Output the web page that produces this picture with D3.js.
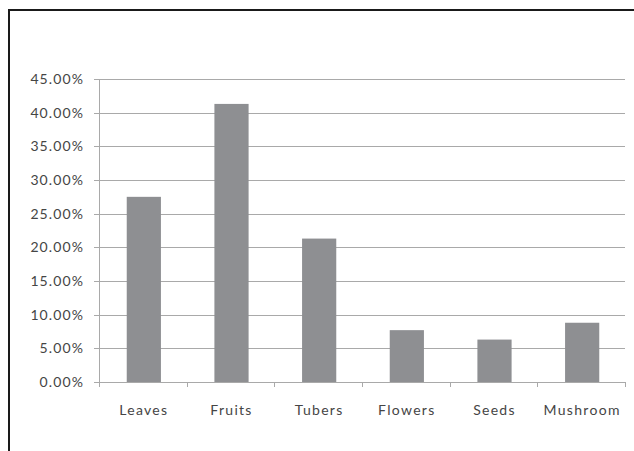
<!DOCTYPE html>
<html>
<head>
<meta charset="utf-8">
<script src="https://cdn.jsdelivr.net/npm/d3@7"></script>
<style>
  body { margin: 0; background: #fff; }
  svg { display: block; }
</style>
</head>
<body>
<div id="chart"></div>
<script>
// chart data
const categories = ["Leaves", "Fruits", "Tubers", "Flowers", "Seeds", "Mushroom"];
const shares = [0.275, 0.413, 0.213, 0.077, 0.063, 0.088];
const yTicks = [0, 0.05, 0.10, 0.15, 0.20, 0.25, 0.30, 0.35, 0.40, 0.45];

const width = 634;
const height = 451;
const margin = { top: 79, right: 9, bottom: 69, left: 99 };

const svg = d3.select("#chart")
    .append("svg")
    .attr("width", width)
    .attr("height", height);

// outer frame (only left and top edges are visible in the picture)
svg.append("path")
    .attr("d", `M9,${height} V10 H${width}`)
    .attr("fill", "none")
    .attr("stroke", "#1a1a1a")
    .attr("stroke-width", 2);

const x = d3.scaleBand()
    .domain(categories)
    .range([margin.left, width - margin.right])
    .paddingInner(0.61)
    .paddingOuter(0.305);

const xEdge = d3.scaleLinear()
    .domain([0, categories.length])
    .range([margin.left, width - margin.right]);

const y = d3.scaleLinear()
    .domain([0, 0.45])
    .range([height - margin.bottom, margin.top]);

const font = "Lato, 'Open Sans', sans-serif";

// gridlines
svg.append("g")
    .selectAll("line")
    .data(yTicks)
    .enter()
    .append("line")
    .attr("x1", margin.left - 5)
    .attr("x2", width - margin.right)
    .attr("y1", (d) => Math.round(y(d)) + 0.5)
    .attr("y2", (d) => Math.round(y(d)) + 0.5)
    .style("stroke", "#a9a9a9")
    .style("stroke-width", 1);

// y axis line
svg.append("line")
    .attr("x1", margin.left + 0.5)
    .attr("x2", margin.left + 0.5)
    .attr("y1", y(0.45))
    .attr("y2", y(0))
    .style("stroke", "#a9a9a9");

// y tick labels
svg.append("g")
    .selectAll("text")
    .data(yTicks)
    .enter()
    .append("text")
    .attr("x", margin.left - 15)
    .attr("y", (d) => y(d))
    .attr("dy", "0.35em")
    .attr("text-anchor", "end")
    .style("font-family", font)
    .style("font-size", "14px")
    .style("letter-spacing", "1.1px")
    .style("fill", "#454545")
    .text((d) => d3.format(".2%")(d));

// bars
svg.append("g")
    .selectAll("rect")
    .data(categories)
    .enter()
    .append("rect")
    .attr("x", (d) => x(d) + 1)
    .attr("width", x.bandwidth())
    .attr("y", (d, i) => y(shares[i]))
    .attr("height", (d, i) => y(0) - y(shares[i]))
    .style("fill", "#8e8f92");

// x tick marks at category boundaries
svg.append("g")
    .selectAll("line")
    .data(d3.range(categories.length + 1))
    .enter()
    .append("line")
    .attr("x1", (d) => Math.round(xEdge(d)) + 0.5)
    .attr("x2", (d) => Math.round(xEdge(d)) + 0.5)
    .attr("y1", y(0))
    .attr("y2", y(0) + 5)
    .style("stroke", "#a9a9a9");

// category labels
svg.append("g")
    .selectAll("text")
    .data(categories)
    .enter()
    .append("text")
    .attr("x", (d) => x(d) + x.bandwidth() / 2 + 1)
    .attr("y", y(0) + 28)
    .attr("dy", "0.35em")
    .attr("text-anchor", "middle")
    .style("font-family", font)
    .style("font-size", "14px")
    .style("letter-spacing", "1.3px")
    .style("fill", "#454545")
    .text((d) => d);
</script>
</body>
</html>
